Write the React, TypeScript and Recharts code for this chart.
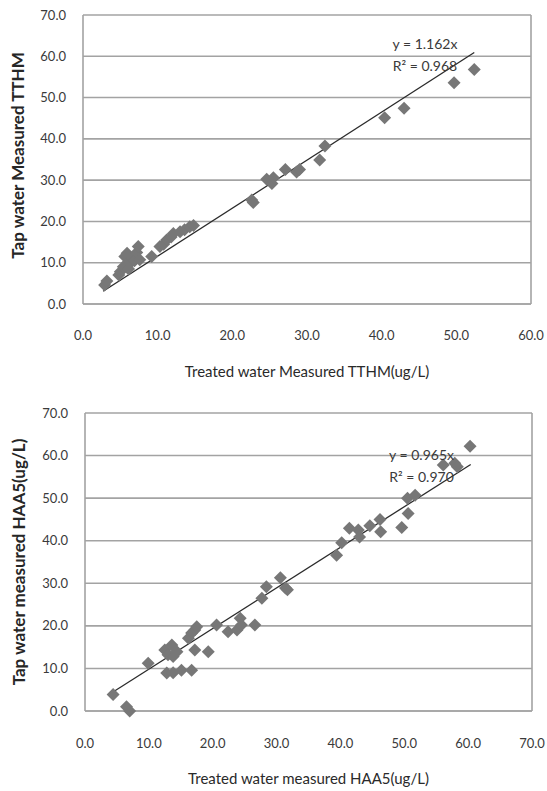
import { ScatterChart, Scatter, XAxis, YAxis, CartesianGrid, ReferenceLine, ReferenceDot } from 'recharts'

// TTHM: treated vs tap (ug/L)
const tthmTreated = [2.9, 3.2, 4.8, 5.0, 5.4, 5.6, 5.9, 6.1, 6.3, 6.6, 6.9, 7.2, 7.4, 7.6, 9.2, 10.3, 10.8, 11.2, 11.8, 12.1, 13.0, 13.6, 14.3, 14.8, 22.6, 22.8, 24.6, 25.3, 25.5, 27.1, 28.6, 29.0, 31.7, 32.4, 40.4, 43.0, 49.7, 52.4]
const tthmTap = [4.6, 5.6, 7.0, 7.8, 9.0, 11.5, 12.3, 8.5, 9.9, 11.0, 10.5, 12.5, 13.9, 10.7, 11.5, 13.9, 14.5, 15.5, 16.2, 17.1, 17.5, 18.0, 18.7, 19.0, 25.2, 24.6, 30.2, 29.2, 30.6, 32.6, 32.0, 32.6, 34.9, 38.3, 45.1, 47.4, 53.6, 56.8]
const tthmFit = [{ x: 2.7, y: 3.1 }, { x: 52.4, y: 60.9 }]

// HAA5: treated vs tap (ug/L)
const haaTreated = [4.4, 6.5, 7.0, 9.9, 12.5, 13.0, 13.6, 13.8, 14.4, 12.8, 13.8, 15.1, 16.7, 16.2, 16.7, 17.2, 17.5, 17.2, 19.3, 20.6, 22.4, 23.8, 24.3, 24.5, 26.6, 27.7, 28.4, 30.6, 31.4, 31.7, 39.4, 40.2, 41.4, 42.8, 43.0, 44.6, 46.2, 46.3, 49.6, 50.6, 50.5, 51.7, 56.1, 57.9, 58.3, 60.3]
const haaTap = [3.9, 1.0, 0.0, 11.2, 14.3, 13.2, 15.5, 12.8, 13.9, 8.9, 9.0, 9.6, 9.6, 17.1, 18.3, 19.0, 19.8, 14.3, 13.9, 20.2, 18.6, 19.0, 21.8, 20.2, 20.2, 26.5, 29.2, 31.3, 28.9, 28.5, 36.6, 39.5, 42.9, 42.5, 40.9, 43.5, 45.0, 42.1, 43.1, 46.4, 50.0, 50.7, 57.8, 58.2, 57.4, 62.2]
const haaFit = [{ x: 4.2, y: 4.3 }, { x: 60.4, y: 57.9 }]

const xTicksTthm = [0, 10, 20, 30, 40, 50, 60]
const xTicksHaa = [0, 10, 20, 30, 40, 50, 60, 70]
const yTicks = [0, 10, 20, 30, 40, 50, 60, 70]

const tthmPoints = tthmTreated.map((x, i) => ({ x, y: tthmTap[i] }))
const haaPoints = haaTreated.map((x, i) => ({ x, y: haaTap[i] }))

const GRID = '#a3a3a3'
const fmt = (v: number) => v.toFixed(1)
const tick = { fill: '#3a3a3a', fontSize: 13 }
const xTitle = { fill: '#2a2a2a', fontSize: 15 }
const yTitle = { textAnchor: 'middle', fontWeight: 'bold', fontSize: 17, fill: '#262626' }
const eq = { fill: '#3a3a3a', fontSize: 14 }

const Diamond = (p: any) => {
  const { cx, cy } = p
  const r = 6.5
  return <path d={`M${cx},${cy - r}L${cx + r},${cy}L${cx},${cy + r}L${cx - r},${cy}Z`} fill="#777777" />
}

export default function App() {
  return (
    <div style={{ position: 'absolute', left: 0, top: 0, width: 547, height: 791, background: '#fff', fontFamily: 'Lato, sans-serif' }}>
      <div style={{ position: 'absolute', left: 0, top: 0 }}>
        <ScatterChart width={547} height={395} margin={{ top: 15, right: 16, left: 0, bottom: 0 }}>
          <CartesianGrid vertical={false} stroke={GRID} strokeWidth={1.6} />
          <XAxis type="number" dataKey="x" domain={[0, 60]} ticks={xTicksTthm} tickFormatter={fmt} tick={tick}
            tickLine={false} tickMargin={21} height={91} axisLine={{ stroke: GRID, strokeWidth: 1.6 }}
            label={{ value: 'Treated water Measured TTHM(ug/L)', position: 'insideBottom', offset: 18, ...xTitle }} />
          <YAxis type="number" dataKey="y" domain={[0, 70]} ticks={yTicks} tickFormatter={fmt} tick={tick}
            tickLine={false} tickMargin={11} width={83} axisLine={{ stroke: GRID, strokeWidth: 1.6 }}
            label={{ value: 'Tap water Measured TTHM', angle: -90, position: 'insideLeft', offset: 18, dy: -4, style: yTitle }} />
          <ReferenceLine x={60} stroke={GRID} strokeWidth={1.6} />
          <Scatter data={tthmPoints} shape={Diamond} isAnimationActive={false} />
          <ReferenceLine segment={tthmFit} stroke="#2b2b2b" strokeWidth={1.3} />
          <ReferenceDot x={45.8} y={63} r={0} stroke="none" label={{ value: 'y = 1.162x', position: 'center', ...eq }} />
          <ReferenceDot x={45.8} y={57.6} r={0} stroke="none" label={{ value: 'R² = 0.968', position: 'center', ...eq }} />
        </ScatterChart>
      </div>
      <div style={{ position: 'absolute', left: 0, top: 395 }}>
        <ScatterChart width={547} height={396} margin={{ top: 18, right: 15, left: 0, bottom: 0 }}>
          <CartesianGrid vertical={false} stroke={GRID} strokeWidth={1.6} />
          <XAxis type="number" dataKey="x" domain={[0, 70]} ticks={xTicksHaa} tickFormatter={fmt} tick={tick}
            tickLine={false} tickMargin={22} height={80} axisLine={{ stroke: GRID, strokeWidth: 1.6 }}
            label={{ value: 'Treated water measured HAA5(ug/L)', position: 'insideBottom', offset: 7, ...xTitle }} />
          <YAxis type="number" dataKey="y" domain={[0, 70]} ticks={yTicks} tickFormatter={fmt} tick={tick}
            tickLine={false} tickMargin={11} width={85} axisLine={{ stroke: GRID, strokeWidth: 1.6 }}
            label={{ value: 'Tap water measured HAA5(ug/L)', angle: -90, position: 'insideLeft', offset: 19, style: yTitle }} />
          <ReferenceLine x={70} stroke={GRID} strokeWidth={1.6} />
          <Scatter data={haaPoints} shape={Diamond} isAnimationActive={false} />
          <ReferenceLine segment={haaFit} stroke="#2b2b2b" strokeWidth={1.3} />
          <ReferenceDot x={52.7} y={60.1} r={0} stroke="none" label={{ value: 'y = 0.965x', position: 'center', ...eq }} />
          <ReferenceDot x={52.7} y={55.0} r={0} stroke="none" label={{ value: 'R² = 0.970', position: 'center', ...eq }} />
        </ScatterChart>
      </div>
    </div>
  )
}
